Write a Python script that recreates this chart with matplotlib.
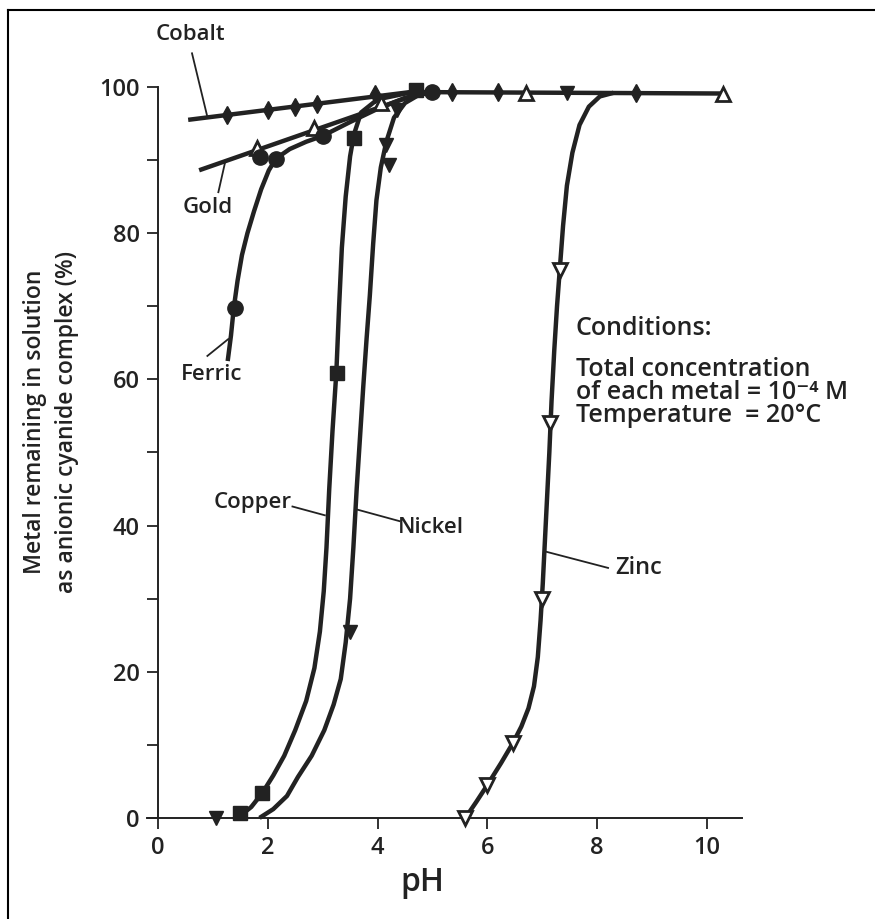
import numpy as np
import matplotlib
matplotlib.use('Agg')
import matplotlib.pyplot as plt
from matplotlib.lines import Line2D

plt.rcParams['font.family'] = ['Open Sans', 'DejaVu Sans']
INK = '#222222'

# ---- data (pH, % remaining) ----
cobalt_ph = [1.25, 2.0, 2.5, 2.9, 3.95, 5.35, 6.2, 8.7]
cobalt_pct = [96.2, 96.9, 97.2, 97.7, 99.0, 99.3, 99.3, 99.2]
cobalt_line_ph = [0.55, 4.6, 10.3]
cobalt_line_pct = [95.5, 99.3, 99.1]

gold_ph = [1.8, 2.85, 4.07, 6.7, 10.3]
gold_pct = [91.6, 94.4, 97.8, 99.2, 99.0]
gold_line_ph = [0.75, 4.8]
gold_line_pct = [88.6, 99.2]

ferric_ph = [1.4, 1.85, 2.15, 3.0, 5.0]
ferric_pct = [69.7, 90.4, 90.2, 93.3, 99.3]
ferric_line_ph = [1.27, 1.33, 1.38, 1.45, 1.53, 1.63, 1.75, 1.88, 2.02, 2.15,
                  2.4, 2.7, 3.0, 3.5, 4.0, 4.5, 5.0]
ferric_line_pct = [62.5, 66.0, 69.7, 73.5, 77.0, 80.0, 83.0, 86.0, 88.6, 90.2,
                   91.5, 92.5, 93.3, 95.2, 97.0, 98.5, 99.3]

copper_ph = [1.5, 1.9, 3.27, 3.57, 4.7]
copper_pct = [0.7, 3.4, 60.8, 93.0, 99.6]
copper_line_ph = [1.5, 1.7, 1.9, 2.1, 2.3, 2.5, 2.7, 2.85, 2.95, 3.02, 3.07, 3.12,
                  3.18, 3.25, 3.3, 3.35, 3.42, 3.5, 3.57, 3.7, 4.0, 4.7]
copper_line_pct = [0.3, 1.5, 3.4, 5.8, 8.5, 12.0, 16.0, 20.5, 25.5, 31.0, 37.0, 45.0,
                   53.0, 61.0, 70.0, 78.0, 85.0, 90.5, 93.5, 96.5, 98.3, 99.4]

nickel_ph = [1.05, 3.5, 4.15, 4.2, 4.35, 7.45]
nickel_pct = [0.0, 25.5, 92.0, 89.3, 96.8, 99.2]
nickel_line_ph = [1.85, 2.1, 2.35, 2.55, 2.8, 3.03, 3.2, 3.33, 3.42, 3.5, 3.56, 3.62,
                  3.68, 3.74, 3.8, 3.86, 3.92, 3.98, 4.06, 4.16, 4.3, 4.5, 4.75, 5.0]
nickel_line_pct = [0.0, 1.2, 3.0, 5.6, 8.5, 12.0, 15.5, 19.0, 24.0, 30.0, 37.0, 45.0,
                   52.0, 59.0, 65.5, 71.5, 78.5, 84.5, 89.0, 92.5, 95.8, 97.8, 98.9, 99.3]

zinc_ph = [5.6, 6.0, 6.47, 7.0, 7.15, 7.32]
zinc_pct = [0.0, 4.5, 10.3, 30.0, 54.0, 75.0]
zinc_line_ph = [5.6, 5.8, 6.0, 6.25, 6.47, 6.62, 6.75, 6.85, 6.92, 6.97, 7.01, 7.05,
                7.09, 7.13, 7.17, 7.22, 7.27, 7.32, 7.38, 7.45, 7.55, 7.68, 7.85, 8.05, 8.3]
zinc_line_pct = [0.0, 2.2, 4.5, 7.5, 10.3, 12.5, 15.0, 18.0, 22.0, 27.0, 32.0, 38.0,
                 44.0, 50.0, 57.0, 64.0, 70.0, 75.0, 81.0, 86.5, 91.0, 94.8, 97.3, 98.7, 99.2]

fig = plt.figure(figsize=(8.75, 9.19), dpi=100)
ax = fig.add_axes([0.168, 0.110, 0.680, 0.7954])

lw = 3.2
for xs, ys in [(cobalt_line_ph, cobalt_line_pct), (gold_line_ph, gold_line_pct),
               (ferric_line_ph, ferric_line_pct), (copper_line_ph, copper_line_pct),
               (nickel_line_ph, nickel_line_pct), (zinc_line_ph, zinc_line_pct)]:
    ax.plot(xs, ys, color=INK, lw=lw, solid_capstyle='butt', solid_joinstyle='round',
            clip_on=False, zorder=2)

ax.plot(cobalt_ph, cobalt_pct, 'd', color=INK, ms=9, clip_on=False, zorder=3)
ax.plot(gold_ph, gold_pct, '^', mfc='white', mec=INK, mew=2, ms=10, clip_on=False, zorder=3)
ax.plot(ferric_ph, ferric_pct, 'o', color=INK, ms=11, clip_on=False, zorder=3)
ax.plot(copper_ph, copper_pct, 's', color=INK, ms=10, clip_on=False, zorder=3)
ax.plot(nickel_ph, nickel_pct, 'v', color=INK, ms=10, clip_on=False, zorder=3)
ax.plot(zinc_ph, zinc_pct, 'v', mfc='white', mec=INK, mew=2, ms=10, clip_on=False, zorder=3)

# axes styling
ax.set_xlim(-0.2, 10.64)
ax.set_ylim(0, 100)
for s in ['top', 'right']:
    ax.spines[s].set_visible(False)
ax.spines['left'].set_position(('data', 0))
ax.spines['left'].set_bounds(0, 100)
ax.spines['left'].set_color(INK)
ax.spines['bottom'].set_color(INK)
ax.spines['left'].set_linewidth(1.4)
ax.spines['bottom'].set_linewidth(1.4)
ax.set_xticks([0, 2, 4, 6, 8, 10])
ax.set_yticks([0, 20, 40, 60, 80, 100])
ax.set_yticks([10, 30, 50, 70, 90], minor=True)
ax.tick_params(which='both', direction='out', length=8, width=1.3, color=INK,
               labelsize=17, labelcolor=INK, pad=5)
for t in ax.get_xticklabels() + ax.get_yticklabels():
    t.set_fontweight('semibold')
ax.set_facecolor('none')

fig.text(0.483, 0.04, 'pH', fontsize=23, ha='center', va='center', color=INK, weight='semibold')
fig.text(35 / 875, 0.541, 'Metal remaining in solution', rotation=90, fontsize=16.5,
         ha='center', va='center', color=INK, weight='semibold')
fig.text(67 / 875, 0.541, 'as anionic cyanide complex (%)', rotation=90, fontsize=16.5,
         ha='center', va='center', color=INK, weight='semibold')

# curve labels with pointer lines
lab = dict(fontsize=16, color=INK, weight='semibold', va='center')
ax.text(0.6, 107.2, 'Cobalt', ha='center', **lab)
ax.plot([0.62, 0.9], [104.6, 95.9], color=INK, lw=1.3, clip_on=False)
ax.text(0.9, 83.5, 'Gold', ha='center', **lab)
ax.plot([1.1, 1.22], [85.6, 89.6], color=INK, lw=1.3, clip_on=False)
ax.text(0.97, 60.7, 'Ferric', ha='center', **lab)
ax.plot([0.9, 1.28], [63.2, 65.5], color=INK, lw=1.3, clip_on=False)
ax.text(1.72, 43.2, 'Copper', ha='center', **lab)
ax.plot([2.45, 3.04], [42.6, 41.4], color=INK, lw=1.3, clip_on=False)
ax.text(4.98, 39.7, 'Nickel', ha='center', **lab)
ax.plot([4.4, 3.62], [40.6, 42.2], color=INK, lw=1.3, clip_on=False)
ax.text(8.75, 34.2, 'Zinc', ha='center', fontsize=17, color=INK, weight='semibold', va='center')
ax.plot([8.2, 7.08], [34.2, 36.4], color=INK, lw=1.3, clip_on=False)

# conditions block
cond = dict(fontsize=18, color=INK, weight='semibold', va='center', ha='left')
ax.text(7.61, 67.0, 'Conditions:', **cond)
ax.text(7.61, 61.4, 'Total concentration', **cond)
ax.text(7.61, 58.2, 'of each metal = 10\u207b\u2074 M', **cond)
ax.text(7.61, 55.0, 'Temperature  = 20\u00b0C', **cond)

# scanned page frame (left and top edges)
fig.add_artist(Line2D([8 / 875, 8 / 875], [0, 1 - 10 / 919], transform=fig.transFigure,
                      color='black', lw=1.5))
fig.add_artist(Line2D([8 / 875, 1], [1 - 10 / 919, 1 - 10 / 919], transform=fig.transFigure,
                      color='black', lw=1.5))

fig.savefig('out.png', dpi=100)
